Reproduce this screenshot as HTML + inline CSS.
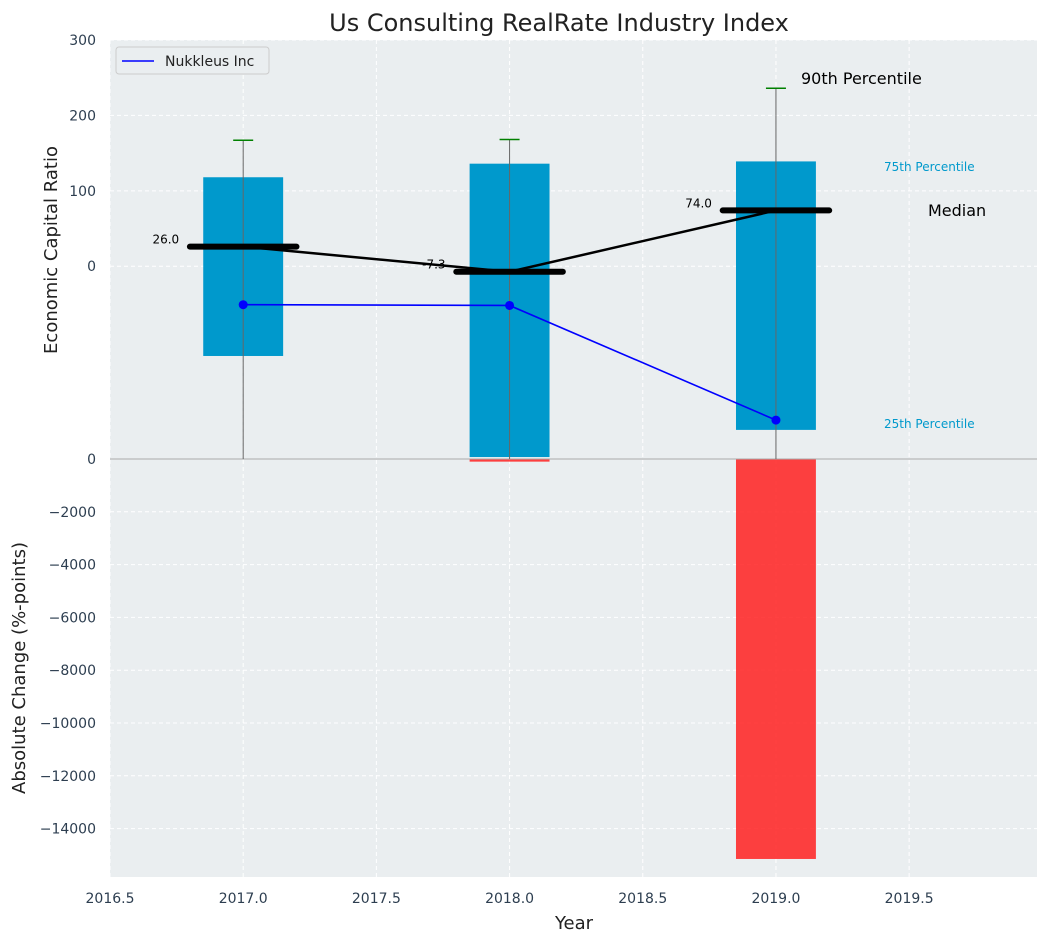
<!DOCTYPE html>
<html><head><meta charset="utf-8"><style>
body{margin:0;background:#fff;font-family:"Liberation Sans","DejaVu Sans",sans-serif}
</style></head><body>
<svg id="c" width="1048" height="942" xmlns="http://www.w3.org/2000/svg" font-family="DejaVu Sans, Liberation Sans, sans-serif"></svg>
<script>
const years=[2017,2018,2019];
const q75=[118,136,139];
const q25=[-119,-253,-217];
const p90=[167,168,236];
const medians=[26.0,-7.3,74.0];
const company=[-51,-52,-204];
const absChange=[0,-100,-15150];
const topTicks=[0,100,200,300];
const botTicks=[0,-2000,-4000,-6000,-8000,-10000,-12000,-14000];
const xTicks=[2016.5,2017,2017.5,2018,2018.5,2019,2019.5];

const NS="http://www.w3.org/2000/svg";
const svg=document.getElementById('c');
function el(t,a,txt){const e=document.createElementNS(NS,t);for(const k in a)e.setAttribute(k,a[k]);if(txt!==undefined)e.textContent=txt;svg.appendChild(e);return e;}
const L=110,R=1037,T1=40,B1=459,T2=459,B2=877;
const x=v=>L+(v-2016.5)*(R-L)/(2019.98-2016.5);
const y1=v=>T1+(300-v)*(B1-T1)/(300+255.6);
const y2=v=>T2+(0-v)*(B2-T2)/(15833);

let e;
e=el('rect',{x:L,y:T1,width:R-L,height:B2-T1,fill:'#eaeef0'});

xTicks.forEach(t=>{e=el('line',{x1:x(t),x2:x(t),y1:T1,y2:B2,stroke:'#fff','stroke-dasharray':'4,3','stroke-width':1});

e=el('text',{x:x(t),y:903,'text-anchor':'middle','font-size':14,fill:'#2d3e50'},t.toFixed(1));
});
topTicks.forEach(t=>{e=el('line',{x1:L,x2:R,y1:y1(t),y2:y1(t),stroke:'#fff','stroke-dasharray':'4,3'});

e=el('text',{x:96,y:y1(t)+5,'text-anchor':'end','font-size':14,fill:'#2d3e50'},String(t));
});
botTicks.forEach(t=>{e=el('line',{x1:L,x2:R,y1:y2(t),y2:y2(t),stroke:'#fff','stroke-dasharray':'4,3'});

e=el('text',{x:96,y:y2(t)+5,'text-anchor':'end','font-size':14,fill:'#2d3e50'},t===0?'0':'\u2212'+Math.abs(t));
});
years.forEach((yr,i)=>{const v=absChange[i];if(v===0)return;const h=Math.max(2,y2(v)-y2(0));
e=el('rect',{x:x(yr-0.15),y:y2(0),width:x(yr+0.15)-x(yr-0.15),height:h,fill:'#ff2020','fill-opacity':0.85});
});
e=el('line',{x1:L,x2:R,y1:B1,y2:B1,stroke:'#aaa','stroke-width':1});

years.forEach((yr,i)=>{
e=el('rect',{x:x(yr-0.15),y:y1(q75[i]),width:x(yr+0.15)-x(yr-0.15),height:y1(q25[i])-y1(q75[i]),fill:'#0099cc'});

e=el('line',{x1:x(yr),x2:x(yr),y1:y1(p90[i]),y2:B1,stroke:'#666','stroke-width':1});

e=el('line',{x1:x(yr)-10,x2:x(yr)+10,y1:y1(p90[i]),y2:y1(p90[i]),stroke:'green','stroke-width':1.5});

});
e=el('polyline',{points:years.map((yr,i)=>x(yr)+','+y1(medians[i])).join(' '),fill:'none',stroke:'#000','stroke-width':2.5});

years.forEach((yr,i)=>{
e=el('line',{x1:x(yr-0.2),x2:x(yr+0.2),y1:y1(medians[i]),y2:y1(medians[i]),stroke:'#000','stroke-width':6,'stroke-linecap':'round'});

const m=medians[i];const s=(m<0?'-':'')+Math.abs(m).toFixed(1);
e=el('text',{x:x(yr)-64,y:y1(m)-3,'text-anchor':'end','font-size':12,fill:'#000'},s);
});
e=el('polyline',{points:years.map((yr,i)=>x(yr)+','+y1(company[i])).join(' '),fill:'none',stroke:'#0000ff','stroke-width':1.6});

years.forEach((yr,i)=>{e=el('circle',{cx:x(yr),cy:y1(company[i]),r:4.5,fill:'#0000ff'});
});
[[801,84,'90th Percentile',16,'#000','p90-annotation'],[884,171,'75th Percentile',12,'#0099cc','p75-annotation'],[928,216,'Median',16,'#000','median-annotation'],[884,428,'25th Percentile',12,'#0099cc','p25-annotation']].forEach(a=>{
e=el('text',{x:a[0],y:a[1],'font-size':a[3],fill:a[4]},a[2]);});
e=el('rect',{x:116,y:47,width:153,height:27,rx:3,fill:'#eaeef0',stroke:'#ccc'});

e=el('line',{x1:122,x2:154,y1:61,y2:61,stroke:'#0000ff','stroke-width':1.6});

e=el('text',{x:165,y:66,'font-size':14,fill:'#222'},'Nukkleus Inc');

e=el('text',{x:559,y:31,'text-anchor':'middle','font-size':24,fill:'#222'},'Us Consulting RealRate Industry Index');

e=el('text',{x:574,y:929,'text-anchor':'middle','font-size':18,fill:'#222'},'Year');

e=el('text',{x:0,y:0,'text-anchor':'middle','font-size':18,fill:'#222',transform:'translate(57,250) rotate(-90)'},'Economic Capital Ratio');

e=el('text',{x:0,y:0,'text-anchor':'middle','font-size':18,fill:'#222',transform:'translate(25,668) rotate(-90)'},'Absolute Change (%-points)');

</script>
</body></html>
